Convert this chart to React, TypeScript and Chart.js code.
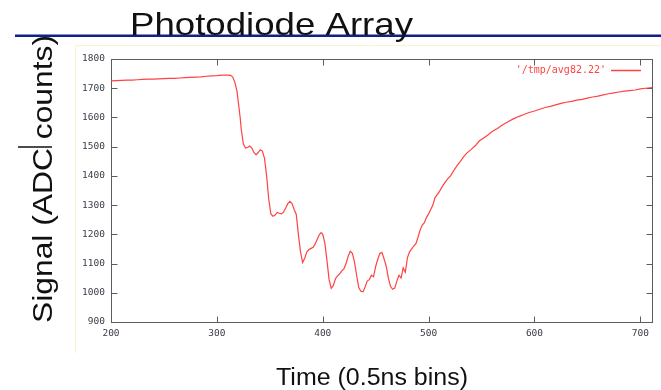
import React, { useEffect, useRef } from "react";
import { Chart, registerables } from "chart.js";

Chart.register(...registerables);

const SLIDE_TITLE = "Photodiode Array";
const Y_TITLE = "Signal (ADC counts)";
const X_TITLE = "Time (0.5ns bins)";
const SERIES_LABEL = "'/tmp/avg82.22'";

const X_TICKS = [200, 300, 400, 500, 600, 700];
const Y_TICKS = [900, 1000, 1100, 1200, 1300, 1400, 1500, 1600, 1700, 1800];

const TIME_BINS = [
  200, 205, 210, 215, 220, 225, 230, 235, 240, 245, 250, 255, 260, 265, 270, 275, 280, 285, 290, 295,
  300, 305, 310, 313, 315, 317, 319, 320, 322, 323, 325, 327, 329, 331, 333, 335, 337, 339, 341, 343,
  345, 347, 349, 351, 353, 355, 357, 359, 361, 363, 365, 367, 369, 371, 373, 375, 377, 379, 381, 383,
  385, 387, 389, 391, 393, 395, 397, 398.5, 400, 402, 404, 406, 408, 410, 412, 414, 416, 418, 420, 422,
  424, 426, 428, 430, 432, 434, 436, 438, 440, 442, 444, 446, 448, 450, 452, 454, 456, 458, 460, 462,
  464, 466, 468, 470, 472, 474, 476, 478, 480, 482, 484, 486, 488, 490, 492, 494, 496, 498, 500, 502,
  504, 506, 508, 510, 512, 515, 518, 521, 524, 527, 530, 533, 536, 540, 544, 548, 552, 556, 560, 565,
  570, 575, 580, 585, 590, 595, 600, 605, 610, 615, 620, 625, 630, 635, 640, 645, 650, 655, 660, 665,
  670, 675, 680, 685, 690, 695, 700, 705, 711,
];

const SIGNAL = [
  1725, 1726, 1727, 1728, 1728, 1729, 1730, 1731, 1731, 1732, 1733, 1734, 1734, 1735, 1736, 1737, 1738, 1739, 1741, 1742,
  1743, 1745, 1745, 1744, 1738, 1720, 1690, 1660, 1600, 1560, 1510, 1495, 1497, 1502, 1495, 1480, 1472, 1480, 1489, 1485,
  1460, 1400, 1320, 1270, 1262, 1266, 1275, 1272, 1270, 1276, 1290, 1305, 1313, 1305, 1285, 1268, 1200, 1140, 1104, 1118,
  1140, 1148, 1152, 1156, 1168, 1185, 1200, 1206, 1200, 1170, 1110, 1045, 1015, 1025, 1048, 1058, 1065, 1075, 1082, 1100,
  1125, 1142, 1135, 1105, 1060, 1018, 1005, 1003, 1020, 1040, 1045, 1060, 1055, 1090, 1115, 1135, 1138, 1115, 1090, 1050,
  1022, 1012, 1016, 1040, 1060, 1050, 1085, 1070, 1120, 1140, 1150, 1160, 1168, 1190, 1215, 1232, 1240, 1258, 1270, 1285,
  1300, 1325, 1335, 1345, 1358, 1375, 1390, 1402, 1420, 1436, 1450, 1465, 1478, 1490, 1503, 1520, 1530, 1540, 1552, 1562,
  1575, 1585, 1595, 1603, 1610, 1617, 1622, 1628, 1634, 1638, 1643, 1648, 1652, 1655, 1659, 1662, 1666, 1670, 1673, 1677,
  1681, 1684, 1687, 1690, 1692, 1694, 1698, 1700, 1702,
];

const CURVE_COLOR = "rgba(255, 45, 45, 0.9)";

function fitText(
  ctx: CanvasRenderingContext2D,
  text: string,
  font: string,
  x: number,
  y: number,
  width: number,
  rotate = 0
) {
  ctx.save();
  ctx.font = font;
  const w = ctx.measureText(text).width;
  ctx.translate(x, y);
  if (rotate) ctx.rotate(rotate);
  ctx.scale(width / w, 1);
  ctx.textAlign = "center";
  ctx.textBaseline = "alphabetic";
  ctx.fillText(text, 0, 0);
  ctx.restore();
}

const slidePlugin = {
  id: "slideDecor",
  beforeDraw(chart: any) {
    const ctx: CanvasRenderingContext2D = chart.ctx;
    ctx.save();
    ctx.fillStyle = "#ffffff";
    ctx.fillRect(0, 0, chart.width, chart.height);
    ctx.strokeStyle = "#fbf2d2";
    ctx.lineWidth = 1;
    ctx.beginPath();
    ctx.moveTo(75.5, 353);
    ctx.lineTo(75.5, 45.5);
    ctx.lineTo(chart.width, 45.5);
    ctx.stroke();
    ctx.fillStyle = "#101e8e";
    ctx.fillRect(15, 34.5, chart.width - 15, 2.5);
    ctx.fillStyle = "#111111";
    fitText(ctx, SLIDE_TITLE, "32px 'Liberation Sans', Arial, sans-serif", 271.5, 35, 283);
    fitText(ctx, X_TITLE, "23px 'Liberation Sans', Arial, sans-serif", 372, 385, 192);
    fitText(ctx, Y_TITLE, "28px 'Liberation Sans', Arial, sans-serif", 52, 179, 288, -Math.PI / 2);
    ctx.strokeStyle = "#111111";
    ctx.lineWidth = 1.5;
    ctx.beginPath();
    ctx.moveTo(18, 147);
    ctx.lineTo(52, 147);
    ctx.stroke();
    ctx.restore();
  },
  beforeDatasetsDraw(chart: any) {
    const ctx: CanvasRenderingContext2D = chart.ctx;
    const a = chart.chartArea;
    const xs = chart.scales.x;
    const ys = chart.scales.y;
    ctx.save();
    ctx.strokeStyle = "#5c5c5c";
    ctx.lineWidth = 1;
    const L = Math.round(a.left) + 0.5;
    const R = Math.round(a.right) + 0.5;
    const T = Math.round(a.top) + 0.5;
    const B = Math.round(a.bottom) + 0.5;
    ctx.strokeRect(L, T, R - L, B - T);
    const tl = 6;
    ctx.beginPath();
    X_TICKS.forEach((v) => {
      const px = Math.round(xs.getPixelForValue(v)) + 0.5;
      ctx.moveTo(px, B);
      ctx.lineTo(px, B - tl);
      ctx.moveTo(px, T);
      ctx.lineTo(px, T + tl);
    });
    Y_TICKS.forEach((v) => {
      const py = Math.round(ys.getPixelForValue(v)) + 0.5;
      ctx.moveTo(L, py);
      ctx.lineTo(L + tl, py);
      ctx.moveTo(R, py);
      ctx.lineTo(R - tl, py);
    });
    ctx.stroke();
    ctx.restore();
  },
  afterDatasetsDraw(chart: any) {
    const ctx: CanvasRenderingContext2D = chart.ctx;
    const ds = chart.data.datasets[0];
    ctx.save();
    ctx.font = "10px 'DejaVu Sans Mono', monospace";
    ctx.fillStyle = ds.borderColor;
    ctx.textAlign = "right";
    ctx.textBaseline = "middle";
    ctx.fillText(ds.label, 606, 70);
    ctx.strokeStyle = ds.borderColor;
    ctx.lineWidth = 1.5;
    ctx.beginPath();
    ctx.moveTo(611, 70.5);
    ctx.lineTo(641, 70.5);
    ctx.stroke();
    ctx.restore();
  },
};

export default function App() {
  const ref = useRef<HTMLCanvasElement | null>(null);
  useEffect(() => {
    document.body.style.margin = "0";
    const canvas = ref.current;
    if (!canvas) return;
    const chart = new Chart(canvas, {
      type: "line",
      data: {
        datasets: [
          {
            label: SERIES_LABEL,
            data: TIME_BINS.map((x, i) => ({ x, y: SIGNAL[i] })),
            borderColor: CURVE_COLOR,
            borderWidth: 1.2,
            pointRadius: 0,
            tension: 0,
            fill: false,
          },
        ],
      },
      options: {
        animation: false,
        responsive: false,
        events: [],
        layout: { padding: { left: 71, top: 59, right: 9, bottom: 48 } },
        plugins: { legend: { display: false }, tooltip: { enabled: false } },
        scales: {
          x: {
            type: "linear",
            min: 200,
            max: 711,
            grid: { display: false, drawTicks: false },
            border: { display: false },
            afterFit: (s: any) => {
              s.height = 20;
            },
            afterBuildTicks: (s: any) => {
              s.ticks = X_TICKS.map((value) => ({ value }));
            },
            ticks: {
              autoSkip: false,
              maxRotation: 0,
              padding: 6,
              color: "#3a3d48",
              font: { family: "'DejaVu Sans Mono', monospace", size: 9.5 },
              callback: (v: any) => String(v),
            },
          },
          y: {
            type: "linear",
            min: 900,
            max: 1800,
            grid: { display: false, drawTicks: false },
            border: { display: false },
            afterFit: (s: any) => {
              s.width = 40;
            },
            afterBuildTicks: (s: any) => {
              s.ticks = Y_TICKS.map((value) => ({ value }));
            },
            ticks: {
              autoSkip: false,
              padding: 6,
              color: "#3a3d48",
              font: { family: "'DejaVu Sans Mono', monospace", size: 9.5 },
              callback: (v: any) => String(v),
            },
          },
        },
      },
      plugins: [slidePlugin],
    } as any);
    return () => chart.destroy();
  }, []);
  return <canvas ref={ref} width={661} height={390} style={{ display: "block" }} />;
}
